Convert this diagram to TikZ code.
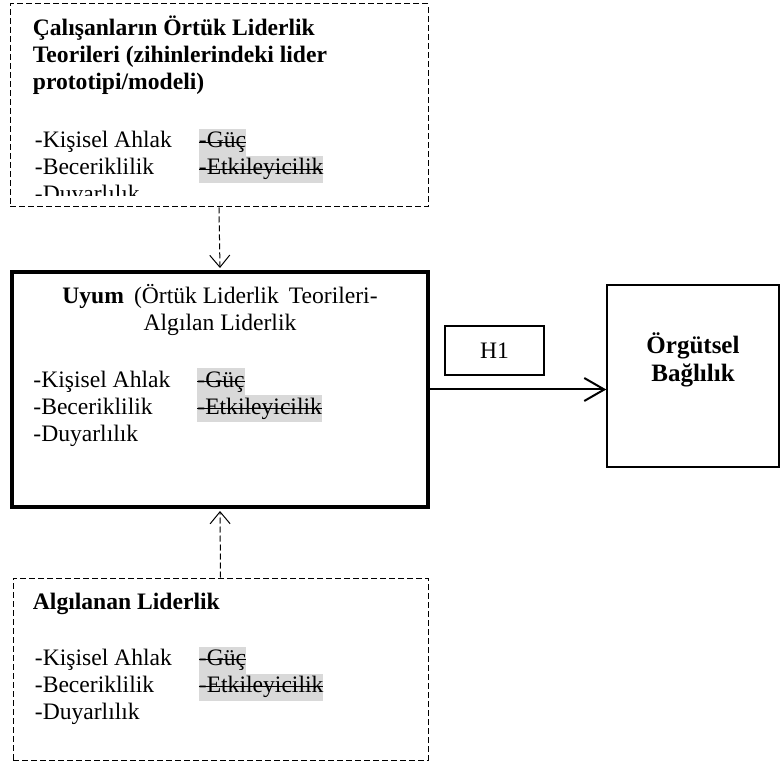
\documentclass[tikz,border=0pt]{standalone}
\usepackage{fontspec}
\setmainfont{Liberation Serif}
\usepackage{xcolor}
\usetikzlibrary{positioning, arrows.meta}
\definecolor{hlgray}{HTML}{D9D9D9}
\newcommand{\struckout}[1]{{\setlength{\fboxsep}{0pt}\colorbox{hlgray}{\strut\sbox0{#1}\rlap{\rule[0.22em]{\wd0}{0.5pt}}\usebox0}}}
\newcommand{\traitrow}[2]{\makebox[82pt][l]{\strut#1}#2}
\newcommand{\traitlist}{\traitrow{-Kişisel Ahlak}{\struckout{-Güç}}\\\traitrow{-Beceriklilik}{\struckout{-Etkileyicilik}}\\\traitrow{-Duyarlılık}{}}
\tikzset{
    dashbox/.style={rectangle, draw=black, line width=0.5pt, dash pattern=on 3pt off 1.5pt, inner sep=0pt},
    fitbox/.style={rectangle, draw=black, line width=2pt, inner sep=0pt},
    outbox/.style={rectangle, draw=black, line width=0.75pt, inner sep=0pt},
    hypo/.style={rectangle, draw=black, line width=0.6pt, minimum width=49.5pt, minimum height=24.5pt, inner sep=0pt},
    boxtext/.style={inner sep=0pt, align=left},
    dasharrow/.style={-{Straight Barb[length=6pt, width=10pt]}, line width=0.5pt, dash pattern=on 3pt off 1.5pt, shorten >=1pt},
    arrow/.style={-{Straight Barb[length=10pt, width=11.5pt]}, line width=1pt}
}

\begin{document}
\begin{tikzpicture}[x=0.5pt, y=-0.5pt, font=\fontsize{11.8pt}{13.5pt}\selectfont]
    \useasboundingbox (0,0) rectangle (780,763);

    % Implicit theories
    \node[dashbox, minimum width=209pt, minimum height=101.5pt] (Implicit) at (219,105.5) {};
    \node[boxtext, below right=6pt and 11.5pt of Implicit.north west] (ImplicitTitle)
        {\strut\textbf{Çalışanların Örtük Liderlik}\\\strut\textbf{Teorileri (zihinlerindeki lider}\\\strut\textbf{prototipi/modeli)}};
    \begin{scope}
        \clip (Implicit.north west) rectangle ([yshift=6pt]Implicit.south east);
        \node[boxtext, below right=62.5pt and 12.5pt of Implicit.north west] (ImplicitList) {\traitlist};
    \end{scope}

    % Fit
    \node[fitbox, minimum width=208pt, minimum height=117.5pt] (Fit) at (220,389.5) {};
    \node[boxtext, align=center, below=7pt of Fit.north] (FitTitle)
        {\strut\textbf{Uyum}\hspace{5pt}(Örtük Liderlik\hspace{5pt}Teorileri-\\\strut Algılan Liderlik};
    \node[boxtext, below right=49pt and 11.5pt of Fit.north west] (FitList) {\traitlist};

    % Perceived leadership
    \node[dashbox, minimum width=207.5pt, minimum height=91pt] (Perceived) at (220.5,669) {};
    \node[boxtext, below right=6.5pt and 10pt of Perceived.north west] (PerceivedTitle) {\strut\textbf{Algılanan Liderlik}};
    \node[boxtext, below right=14pt and 1pt of PerceivedTitle.south west] (PerceivedList) {\traitlist};

    % Commitment
    \node[outbox, minimum width=86pt, minimum height=91pt] (Commitment) at (693,376) {};
    \node[boxtext, align=center, below=24pt of Commitment.north, font=\fontsize{12.5pt}{14pt}\selectfont] (CommitmentText)
        {\strut\textbf{Örgütsel}\\\strut\textbf{Bağlılık}};

    \node[hypo] (H1) at (494.5,350.5) {H1};

    \draw[dasharrow] (Implicit.south) -- (Fit.north);
    \draw[dasharrow] (Perceived.north) -- (Fit.south);
    \draw[arrow] (Fit.east) -- (Fit.east -| Commitment.west);
\end{tikzpicture}
\end{document}
